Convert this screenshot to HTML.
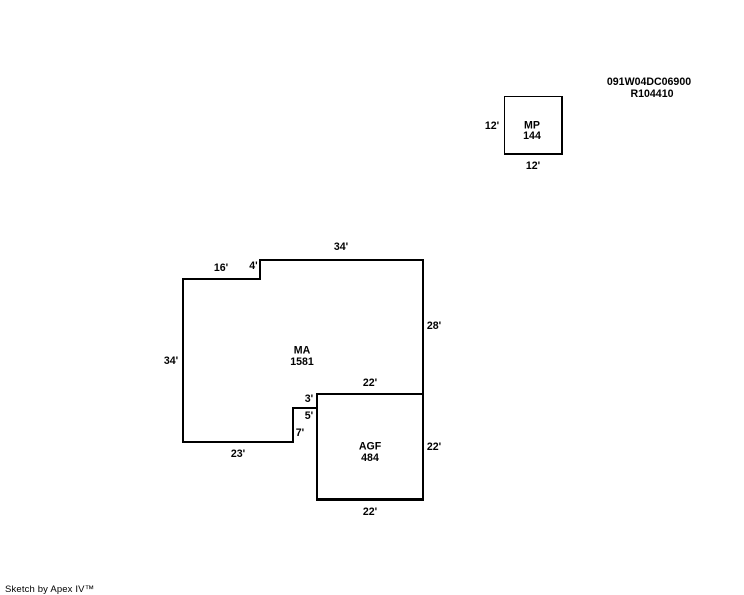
<!DOCTYPE html>
<html>
<head>
<meta charset="utf-8">
<style>
html,body{margin:0;padding:0;background:#fff;width:744px;height:595px;overflow:hidden}
svg{display:block}
text{font-family:"Liberation Sans",Arial,sans-serif;font-size:10.6px;font-weight:bold;fill:#000;text-anchor:middle}
rect{fill:#000}
</style>
</head>
<body>
<svg width="744" height="595" viewBox="0 0 744 595" xmlns="http://www.w3.org/2000/svg">
<!-- MP -->
<rect x="504" y="96" width="59" height="1"/>
<rect x="504" y="96" width="1" height="58"/>
<rect x="561" y="96" width="2" height="59"/>
<rect x="504" y="153" width="59" height="2"/>
<!-- MA outline -->
<rect x="260" y="259" width="164" height="2"/>
<rect x="259" y="259" width="2" height="21"/>
<rect x="182" y="278" width="79" height="2"/>
<rect x="182" y="278" width="2" height="165"/>
<rect x="182" y="441" width="112" height="2"/>
<rect x="292" y="407" width="2" height="36"/>
<rect x="292" y="407" width="25" height="2"/>
<rect x="422" y="259" width="2" height="136"/>
<!-- AGF -->
<rect x="316" y="393" width="108" height="2"/>
<rect x="316" y="393" width="2" height="108"/>
<rect x="422" y="393" width="2" height="108"/>
<rect x="316" y="498" width="108" height="3"/>
<!-- labels -->
<text x="649" y="85">091W04DC06900</text>
<text x="652" y="97">R104410</text>
<text x="492" y="129">12'</text>
<text x="532" y="128.5">MP</text>
<text x="532" y="139">144</text>
<text x="533" y="169">12'</text>
<text x="341" y="250">34'</text>
<text x="221" y="271">16'</text>
<text x="253.5" y="269">4'</text>
<text x="434" y="329">28'</text>
<text x="171" y="364">34'</text>
<text x="302" y="353.5">MA</text>
<text x="302" y="365">1581</text>
<text x="370" y="386">22'</text>
<text x="309" y="402">3'</text>
<text x="309" y="419">5'</text>
<text x="300" y="436">7'</text>
<text x="238" y="457">23'</text>
<text x="370" y="449.5">AGF</text>
<text x="370" y="461">484</text>
<text x="434" y="450">22'</text>
<text x="370" y="515">22'</text>
<text x="5" y="592" style="font-size:9.5px;font-weight:normal;text-anchor:start;letter-spacing:.15px">Sketch by Apex IV™</text>
</svg>
</body>
</html>
